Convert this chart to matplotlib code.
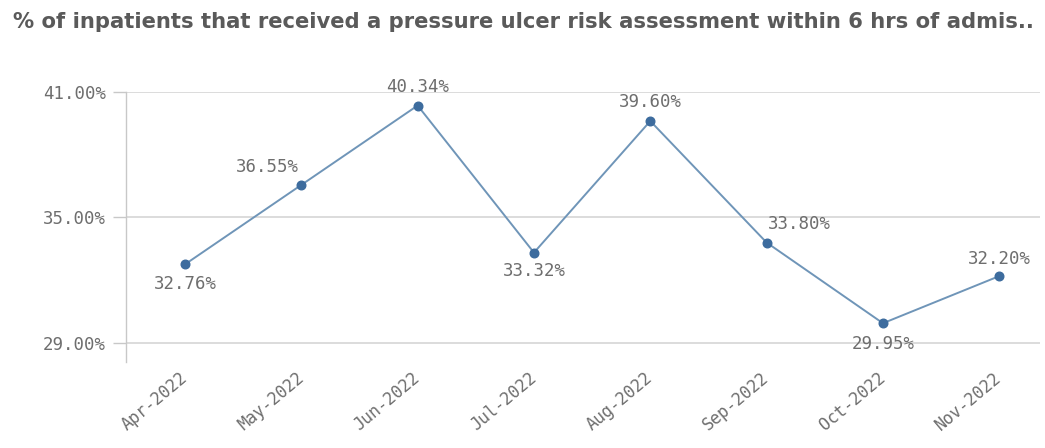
import matplotlib
matplotlib.use("Agg")
import matplotlib.pyplot as plt

months = ["Apr-2022", "May-2022", "Jun-2022", "Jul-2022",
          "Aug-2022", "Sep-2022", "Oct-2022", "Nov-2022"]
values = [32.76, 36.55, 40.34, 33.32, 39.60, 33.80, 29.95, 32.20]
yticks = [29.0, 35.0, 41.0]
title = "% of inpatients that received a pressure ulcer risk assessment within 6 hrs of admis.."

# label placement (style): pixel offsets of each value label from its point
label_offsets = [(0, -20), (-34, 18), (0, 19), (0, -18),
                 (0, 19), (33, 19), (0, -21), (0, 17)]

DPI = 100
fig = plt.figure(figsize=(10.45, 4.48), dpi=DPI)
ax = fig.add_axes([126/1045, 86/448, 914/1045, 270.3/448])

grey_txt = "#6e6e6e"
mono = "DejaVu Sans Mono"
fs = 12.5

x = list(range(len(months)))
ax.plot(x, values, color="#6f95b8", lw=1.4, zorder=3)
ax.plot(x, values, ls="none", marker="o", ms=6.2, color="#3d6c9e", zorder=4)

for xi, v, (dx, dy) in zip(x, values, label_offsets):
    ax.annotate(f"{v:.2f}%", (xi, v), xytext=(dx * 72 / DPI, dy * 72 / DPI),
                textcoords="offset points", ha="center", va="center",
                fontsize=fs, family=mono, color=grey_txt, zorder=5,
                annotation_clip=False)

ax.set_xlim(-0.507, 7.35)
ax.set_ylim(28.1, 41.0)
ax.set_yticks(yticks)
ax.set_yticklabels([f"{t:.2f}%" for t in yticks], family=mono, fontsize=fs,
                   color=grey_txt)
ax.set_xticks(x)
ax.set_xticklabels(months, family=mono, fontsize=12, color=grey_txt,
                   rotation=40, ha="right", va="center", rotation_mode="anchor")
ax.tick_params(axis="x", length=0, pad=10)
ax.tick_params(axis="y", length=9.4, width=1.0, color="#c8c8c8", pad=5)

ax.grid(axis="y", color="#d6d6d6", lw=1.2)
ax.set_axisbelow(True)
for s in ["top", "right", "bottom"]:
    ax.spines[s].set_visible(False)
ax.spines["left"].set_color("#c8c8c8")
ax.spines["left"].set_linewidth(1.0)
ax.spines["left"].set_bounds(41.0, 28.1)

fig.text(13/1045, 1 - 22/448, title, ha="left", va="center",
         fontsize=15.2, fontweight="bold", family="DejaVu Sans", color="#5a5a5a")

fig.savefig("out.png", dpi=DPI, facecolor="white")
